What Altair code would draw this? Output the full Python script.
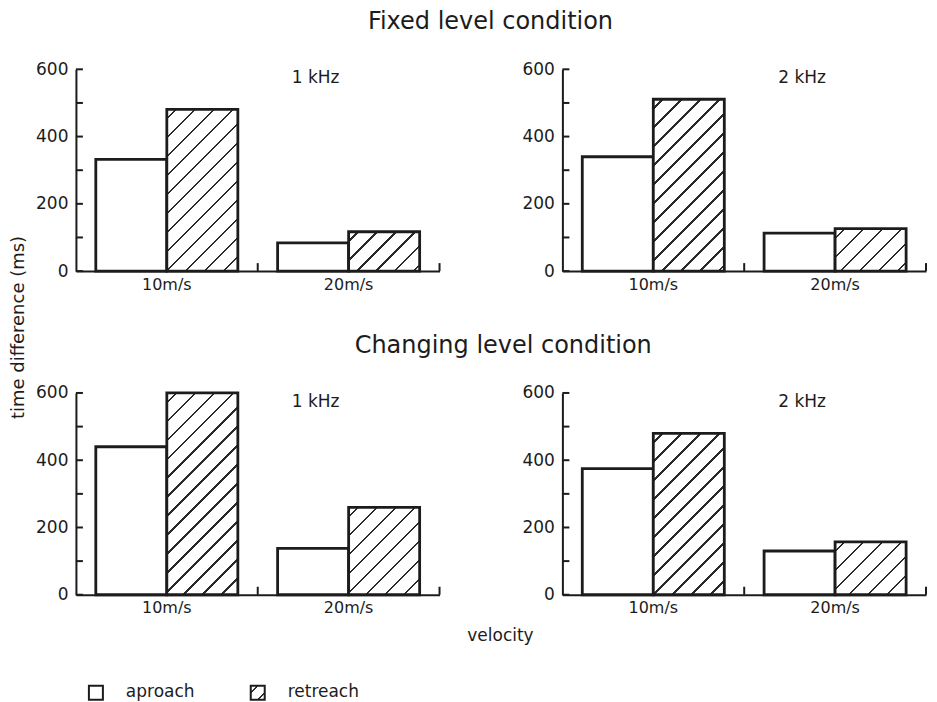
import altair as alt

# ---------------- data ----------------
velocities = ["10m/s", "20m/s"]
directions = ["aproach", "retreach"]

fixed_1khz_aproach = [332, 84]
fixed_1khz_retreach = [481, 117]
fixed_2khz_aproach = [340, 113]
fixed_2khz_retreach = [511, 126]
changing_1khz_aproach = [440, 138]
changing_1khz_retreach = [600, 260]
changing_2khz_aproach = [375, 130]
changing_2khz_retreach = [480, 157]

y_tick_values = [0, 100, 200, 300, 400, 500, 600]
y_label_values = [0, 200, 400, 600]

# ---------------- style / layout ----------------
PANEL_W, PANEL_H = 364, 202
ROW_GAP = 122
Y_MAX = 600
FONT = "DejaVu Sans"
INK = "#1c1c1c"
HATCH_INK = "#2a2a2a"
OFFSET_PAD = 0.28
BAR_W = (PANEL_W / 2) / (2 + 2 * OFFSET_PAD)


def hatch(w, h, spacing=19.0, line=1.7):
    """Linear gradient that draws 45-degree hatch lines in a w x h pixel box."""
    total = w + h
    r = h / w
    s = (1 + r) / (1 + r * r)
    half = line * 1.4142 / 2
    stops = [{"offset": 0, "color": "white"}]
    c = spacing / 2
    while c - half < total:
        a = max(0.0, (c - half) / total)
        b = min(1.0, (c + half) / total)
        stops += [
            {"offset": a, "color": "white"},
            {"offset": a, "color": HATCH_INK},
            {"offset": b, "color": HATCH_INK},
            {"offset": b, "color": "white"},
        ]
        c += spacing
    stops.append({"offset": 1, "color": "white"})
    return {"gradient": "linear", "x1": 0, "y1": 0, "x2": s, "y2": s * r, "stops": stops}


x_scale = alt.Scale(domain=velocities, paddingInner=0, paddingOuter=0)
y_scale = alt.Scale(domain=[0, Y_MAX], nice=False, zero=True)
off_scale = alt.Scale(domain=directions, paddingInner=0, paddingOuter=OFFSET_PAD)

x_axis = alt.Axis(
    title=None, ticks=False, tickSize=0, labelAngle=0, labelPadding=5,
    labelFont=FONT, labelFontSize=16, labelColor=INK,
    domainColor=INK, domainWidth=2, grid=False,
)


def y_axis(with_title):
    kw = dict(
        values=y_label_values, ticks=False, tickSize=0, labelPadding=8,
        labelFont=FONT, labelFontSize=17, labelColor=INK,
        domainColor=INK, domainWidth=2, grid=False,
    )
    if with_title:
        kw.update(
            title="time difference (ms)", titleFont=FONT, titleFontSize=18,
            titleFontWeight="normal", titleColor=INK, titleAngle=-90,
            titleBaseline="middle", titleAlign="center",
            titleX=-57, titleY=258,
        )
    else:
        kw.update(title=None)
    return alt.Axis(**kw)


def panel(aproach_vals, retreach_vals, freq, with_title=False, extra=None):
    rows = []
    for i, vel in enumerate(velocities):
        for d, vals in zip(directions, [aproach_vals, retreach_vals]):
            v = vals[i]
            px_h = v / Y_MAX * PANEL_H
            fill = "white" if d == "aproach" else hatch(BAR_W, px_h)
            rows.append({"velocity": vel, "direction": d, "value": v, "fill": fill})

    ya = y_axis(with_title)

    bars = alt.Chart(alt.Data(values=rows)).mark_bar(
        stroke=INK, strokeWidth=2.8, strokeJoin="miter", opacity=1
    ).encode(
        x=alt.X("velocity:N", scale=x_scale, axis=x_axis, sort=velocities),
        xOffset=alt.XOffset("direction:N", scale=off_scale, sort=directions),
        y=alt.Y("value:Q", scale=y_scale, axis=ya),
        fill=alt.Fill("fill:N", scale=None),
    )

    y_ticks = alt.Chart(alt.Data(values=[{"t": t} for t in y_tick_values])).mark_rule(
        color=INK, strokeWidth=2
    ).encode(
        y=alt.Y("t:Q", scale=y_scale, axis=ya),
        x=alt.value(0),
        x2=alt.value(7),
    )

    x_ticks = alt.Chart(alt.Data(values=[{"velocity": v} for v in velocities])).mark_rule(
        color=INK, strokeWidth=2
    ).encode(
        x=alt.X("velocity:N", scale=x_scale, axis=x_axis, bandPosition=1, sort=velocities),
        y=alt.value(PANEL_H - 8),
        y2=alt.value(PANEL_H),
    )

    ann = alt.Chart(alt.Data(values=[{"label": freq}])).mark_text(
        font=FONT, fontSize=17, color=INK, align="center", baseline="middle"
    ).encode(
        text="label:N",
        x=alt.value(240),
        y=alt.value(9),
    )

    layers = [bars, y_ticks, x_ticks, ann]
    if extra:
        layers += extra
    return alt.layer(*layers).properties(width=PANEL_W, height=PANEL_H)


# bottom annotations: axis name and legend (attached to bottom-left panel)
velocity_label = alt.Chart(alt.Data(values=[{"t": "velocity"}])).mark_text(
    font=FONT, fontSize=17, color=INK, align="center", baseline="middle"
).encode(text="t:N", x=alt.value(425), y=alt.value(PANEL_H + 41))

legend_x = {"aproach": 20, "retreach": 182}
legend_layers = []
for d in directions:
    f = "white" if d == "aproach" else hatch(14, 14, spacing=14, line=1.6)
    item = alt.Chart(alt.Data(values=[{"dir": d, "fill": f}]))
    legend_layers.append(
        item.mark_square(size=196, stroke=INK, strokeWidth=2, opacity=1, filled=True).encode(
            x=alt.value(legend_x[d]), y=alt.value(PANEL_H + 98),
            fill=alt.Fill("fill:N", scale=None),
        )
    )
    legend_layers.append(
        item.mark_text(font=FONT, fontSize=17, color=INK, align="left", baseline="middle").encode(
            text="dir:N", x=alt.value(legend_x[d] + 30), y=alt.value(PANEL_H + 97),
        )
    )

tl = panel(fixed_1khz_aproach, fixed_1khz_retreach, "1 kHz", with_title=True)
tr = panel(fixed_2khz_aproach, fixed_2khz_retreach, "2 kHz")
bl = panel(changing_1khz_aproach, changing_1khz_retreach, "1 kHz",
           extra=[velocity_label] + legend_layers)
br = panel(changing_2khz_aproach, changing_2khz_retreach, "2 kHz")


def row_title(text):
    return alt.TitleParams(
        text=text, font=FONT, fontSize=24, fontWeight="normal", color=INK,
        anchor="middle", offset=26, dx=22,
    )


top = alt.hconcat(tl, tr, spacing=123, bounds="flush").properties(
    title=row_title("Fixed level condition"))
bottom = alt.hconcat(bl, br, spacing=123, bounds="flush").properties(
    title=row_title("Changing level condition"))

# with flush bounds the nested rows count as zero-height, so the spacing
# carries the panel height plus the gap between the rows
chart = alt.vconcat(top, bottom, spacing=PANEL_H + ROW_GAP, bounds="flush").properties(
    background="white",
    padding={"left": 2, "top": 2, "right": 2, "bottom": 2},
).configure_view(stroke=None)

chart.save("out.html", embed_options={"renderer": "svg", "actions": False})
